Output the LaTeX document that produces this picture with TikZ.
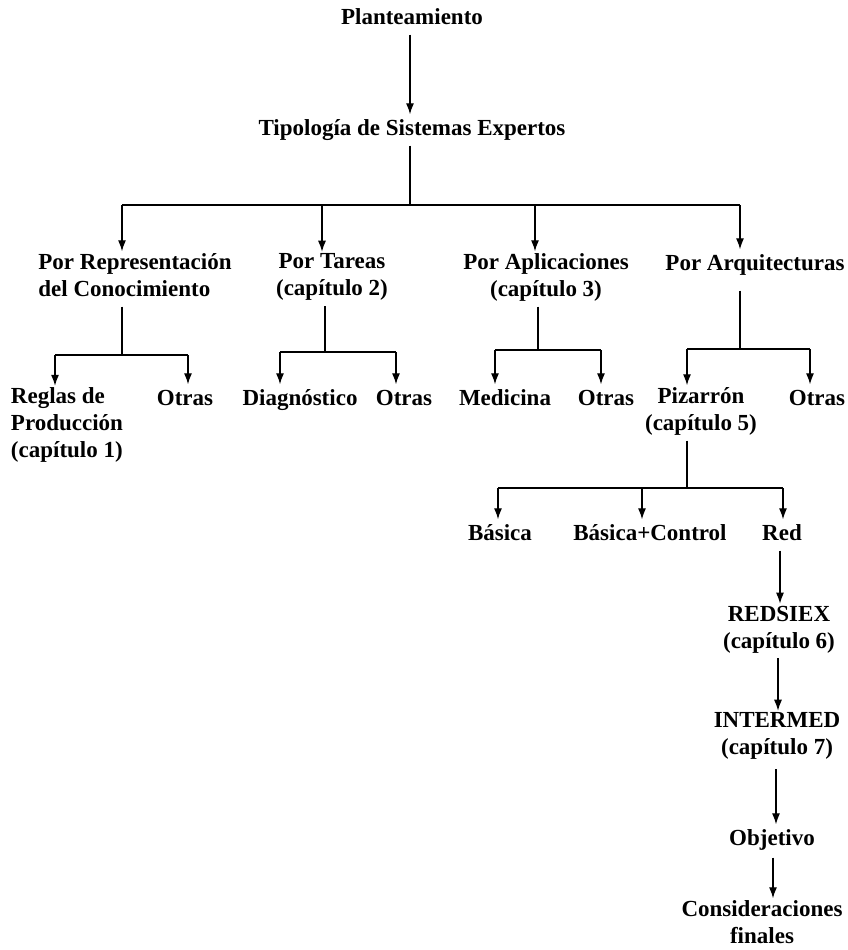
\documentclass[tikz,border=0pt]{standalone}
\usepackage{fontspec}
\setmainfont{Liberation Serif}
\usetikzlibrary{arrows.meta}
\begin{document}
\begin{tikzpicture}[x=1pt,y=-1pt,
  lbl/.style={font=\fontsize{23}{27}\selectfont\bfseries, inner sep=2pt, align=center,
    execute at begin node=\strut, execute at end node=\strut},
  lbll/.style={lbl, align=left},
  conn/.style={line width=1.2pt},
  bar/.style={line width=2pt},
  arr/.style={line width=1.2pt, -{Latex[length=11pt,width=8pt]}}]
\useasboundingbox (0,0) rectangle (848,950);

% top chain
\node[lbl] (plan) at (412,19) {Planteamiento};
\node[lbl] (tipo) at (412,130) {Tipología de Sistemas Expertos};
\draw[arr] (plan.south -| 410,0) -- (tipo.north -| 410,0);

% first level
\node[lbll] (rep) at (135,279) {Por Representación\\del Conocimiento};
\node[lbl] (tar) at (332,279) {Por Tareas\\(capítulo 2)};
\node[lbl] (apl) at (546,279) {Por Aplicaciones\\(capítulo 3)};
\node[lbl] (arq) at (755,265) {Por Arquitecturas};

\coordinate (t0) at (410,205);
\coordinate (t1) at (122,205);
\coordinate (t2) at (322,205);
\coordinate (t3) at (535,205);
\coordinate (t4) at (740,205);
\draw[conn] (tipo.south -| t0) -- (t0);
\draw[bar] (t1) -- (t4);
\draw[arr] (t1) -- (t1 |- rep.north);
\draw[arr] (t2) -- (t2 |- tar.north);
\draw[arr] (t3) -- (t3 |- apl.north);
\draw[arr] (t4) -- (t4 |- arq.north);

% second level
\node[lbll] (reg) at (67,427) {Reglas de\\Producción\\(capítulo 1)};
\node[lbl] (otr1) at (185,400) {Otras};
\node[lbl] (diag) at (300,400) {Diagnóstico};
\node[lbl] (otr2) at (404,400) {Otras};
\node[lbl] (med) at (505,400) {Medicina};
\node[lbl] (otr3) at (606,400) {Otras};
\node[lbl] (piz) at (701,413) {Pizarrón\\(capítulo 5)};
\node[lbl] (otr4) at (817,400) {Otras};

% representation branch
\coordinate (r0) at (122,355);
\coordinate (r1) at (55,355);
\coordinate (r2) at (188,355);
\draw[conn] (rep.south -| r0) -- (r0);
\draw[bar] (r1) -- (r2);
\draw[arr] (r1) -- (r1 |- reg.north);
\draw[arr] (r2) -- (r2 |- otr1.north);

% task branch
\coordinate (a0) at (325,352);
\coordinate (a1) at (280,352);
\coordinate (a2) at (396,352);
\draw[conn] (tar.south -| a0) -- (a0);
\draw[bar] (a1) -- (a2);
\draw[arr] (a1) -- (a1 |- diag.north);
\draw[arr] (a2) -- (a2 |- otr2.north);

% application branch
\coordinate (p0) at (538,350);
\coordinate (p1) at (495,350);
\coordinate (p2) at (601,350);
\draw[conn] (apl.south -| p0) -- (p0);
\draw[bar] (p1) -- (p2);
\draw[arr] (p1) -- (p1 |- med.north);
\draw[arr] (p2) -- (p2 |- otr3.north);

% architecture branch
\coordinate (q0) at (740,349);
\coordinate (q1) at (687,349);
\coordinate (q2) at (810,349);
\draw[conn] (arq.south -| q0) ++(0,10) -- (q0);
\draw[bar] (q1) -- (q2);
\draw[arr] (q1) -- (q1 |- piz.north);
\draw[arr] (q2) -- (q2 |- otr4.north);

% blackboard variants
\node[lbl] (bas) at (500,535) {Básica};
\node[lbl] (bc) at (650,535) {Básica+Control};
\node[lbl] (red) at (782,535) {Red};
\coordinate (z0) at (687,488);
\coordinate (z1) at (498,488);
\coordinate (z2) at (642,488);
\coordinate (z3) at (783,488);
\draw[conn] (piz.south -| z0) -- (z0);
\draw[bar] (z1) -- (z3);
\draw[arr] (z1) -- (z1 |- bas.north);
\draw[arr] (z2) -- (z2 |- bc.north);
\draw[arr] (z3) -- (z3 |- red.north);

% final chain
\node[lbl] (rsx) at (779,631) {REDSIEX\\(capítulo 6)};
\node[lbl] (itm) at (777,738) {INTERMED\\(capítulo 7)};
\node[lbl] (obj) at (772,840) {Objetivo};
\node[lbl] (cons) at (762,926) {Consideraciones\\finales};
\draw[arr] (red.south -| 780,0) -- (rsx.north -| 780,0);
\draw[arr] (rsx.south -| 778,0) -- (itm.north -| 778,0);
\draw[arr] (itm.south -| 776,0) ++(0,4) -- (obj.north -| 776,0);
\draw[arr] (obj.south -| 773,0) ++(0,2) -- (cons.north -| 773,0);
\end{tikzpicture}
\end{document}
